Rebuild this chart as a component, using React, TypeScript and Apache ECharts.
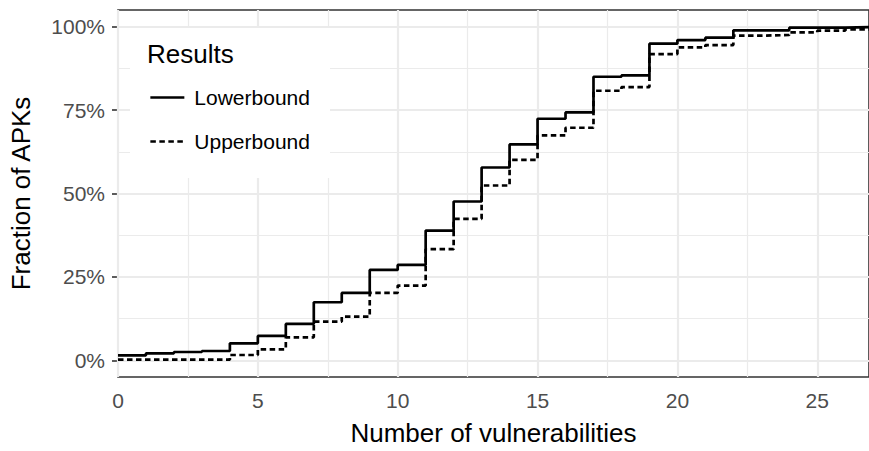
import React, { useEffect, useRef } from 'react';
import * as echarts from 'echarts';

const xValues = [0, 1, 2, 3, 4, 5, 6, 7, 8, 9, 10, 11, 12, 13, 14, 15, 16, 17, 18, 19, 20, 21, 22, 23, 24, 25, 26, 27];
const lowerbound = [1.5, 2.1, 2.5, 2.8, 5.1, 7.3, 10.9, 17.4, 20.2, 27.1, 28.6, 38.9, 47.6, 57.8, 64.7, 72.4, 74.3, 85.0, 85.4, 94.9, 96.0, 96.7, 98.9, 98.9, 99.7, 99.7, 99.9, 100];
const upperbound = [0.2, 0.2, 0.2, 0.2, 1.6, 3.3, 6.9, 11.6, 13.1, 20.2, 22.4, 33.3, 42.4, 52.4, 60.1, 67.4, 69.7, 80.8, 81.9, 91.8, 93.8, 94.5, 97.3, 97.5, 98.3, 98.8, 99.2, 99.6];

const xTicks = [0, 5, 10, 15, 20, 25];
const xMinor = [2.5, 7.5, 12.5, 17.5, 22.5];
const yTicks = [0, 25, 50, 75, 100];
const yMinor = [12.5, 37.5, 62.5, 87.5];

const seriesNames = ['Lowerbound', 'Upperbound'];
const FONT = 'Liberation Sans';

export default function App() {
  const ref = useRef<HTMLDivElement>(null);
  useEffect(() => {
    const chart = echarts.init(ref.current!, null, { renderer: 'svg' });
    const gridColor = '#EBEBEB';
    const markData: any[] = [
      ...xMinor.map((v) => ({ xAxis: v, lineStyle: { color: gridColor, width: 1.2, type: 'solid' } })),
      ...yMinor.map((v) => ({ yAxis: v, lineStyle: { color: gridColor, width: 1.2, type: 'solid' } })),
      ...xTicks.map((v) => ({ xAxis: v, lineStyle: { color: gridColor, width: 2.2, type: 'solid' } })),
      ...yTicks.map((v) => ({ yAxis: v, lineStyle: { color: gridColor, width: 2.2, type: 'solid' } })),
    ];
    chart.setOption({
      animation: false,
      backgroundColor: '#ffffff',
      grid: {
        left: 117,
        right: -4,
        top: 10,
        bottom: 68,
        show: true,
        borderColor: '#333333',
        borderWidth: 1.6,
        backgroundColor: 'transparent',
        z: 0,
      },
      title: {
        text: 'Results',
        left: 147,
        top: 41,
        padding: 0,
        z: 10,
        textStyle: { fontFamily: FONT, fontSize: 26, fontWeight: 'normal', color: '#000000' },
      },
      legend: {
        data: seriesNames,
        orient: 'vertical',
        left: 149,
        top: 87,
        padding: 0,
        itemWidth: 34,
        itemHeight: 22,
        itemGap: 23,
        z: 10,
        itemStyle: { opacity: 0 },
        lineStyle: { width: 2.7 },
        textStyle: { fontFamily: FONT, fontSize: 21, color: '#000000', padding: [0, 0, 0, 5] },
      },
      graphic: [
        {
          type: 'rect',
          z: 2,
          silent: true,
          shape: { x: 130, y: 28, width: 200, height: 150 },
          style: { fill: '#ffffff' },
        },
      ],
      xAxis: {
        type: 'value',
        min: 0,
        max: 26.85,
        name: 'Number of vulnerabilities',
        nameLocation: 'middle',
        nameGap: 43,
        nameTextStyle: { fontFamily: FONT, fontSize: 26, color: '#000000' },
        axisLine: { show: false },
        axisTick: { show: true, customValues: xTicks, length: 6, lineStyle: { color: '#333333', width: 1.6 } },
        axisLabel: {
          customValues: xTicks,
          margin: 13,
          fontFamily: FONT,
          fontSize: 21,
          color: '#4D4D4D',
          formatter: (v: number) => String(v),
        },
        splitLine: { show: false },
      },
      yAxis: {
        type: 'value',
        min: -5,
        max: 105,
        name: 'Fraction of APKs',
        nameLocation: 'middle',
        nameGap: 84,
        nameTextStyle: { fontFamily: FONT, fontSize: 26, color: '#000000' },
        axisLine: { show: false },
        axisTick: { show: true, customValues: yTicks, length: 6, lineStyle: { color: '#333333', width: 1.6 } },
        axisLabel: {
          customValues: yTicks,
          margin: 13,
          fontFamily: FONT,
          fontSize: 21,
          color: '#4D4D4D',
          formatter: (v: number) => v + '%',
        },
        splitLine: { show: false },
      },
      series: [
        {
          name: 'gridlines',
          type: 'line',
          data: [],
          silent: true,
          markLine: {
            z: 1,
            silent: true,
            animation: false,
            symbol: 'none',
            label: { show: false },
            emphasis: { disabled: true },
            data: markData,
          },
        },
        {
          name: seriesNames[0],
          type: 'line',
          step: 'end',
          z: 3,
          symbol: 'none',
          silent: true,
          lineStyle: { color: '#000000', width: 2.7, type: 'solid' },
          itemStyle: { color: '#000000' },
          data: xValues.map((x, i) => [x, lowerbound[i]]),
        },
        {
          name: seriesNames[1],
          type: 'line',
          step: 'end',
          z: 3,
          symbol: 'none',
          silent: true,
          lineStyle: { color: '#000000', width: 2.7, type: [5.5, 3.5] },
          itemStyle: { color: '#000000' },
          data: xValues.map((x, i) => [x, upperbound[i]]),
        },
      ],
    });
    return () => chart.dispose();
  }, []);
  return (
    <div
      ref={ref}
      style={{ position: 'fixed', left: 0, top: 0, width: 869, height: 451, background: '#ffffff' }}
    />
  );
}
